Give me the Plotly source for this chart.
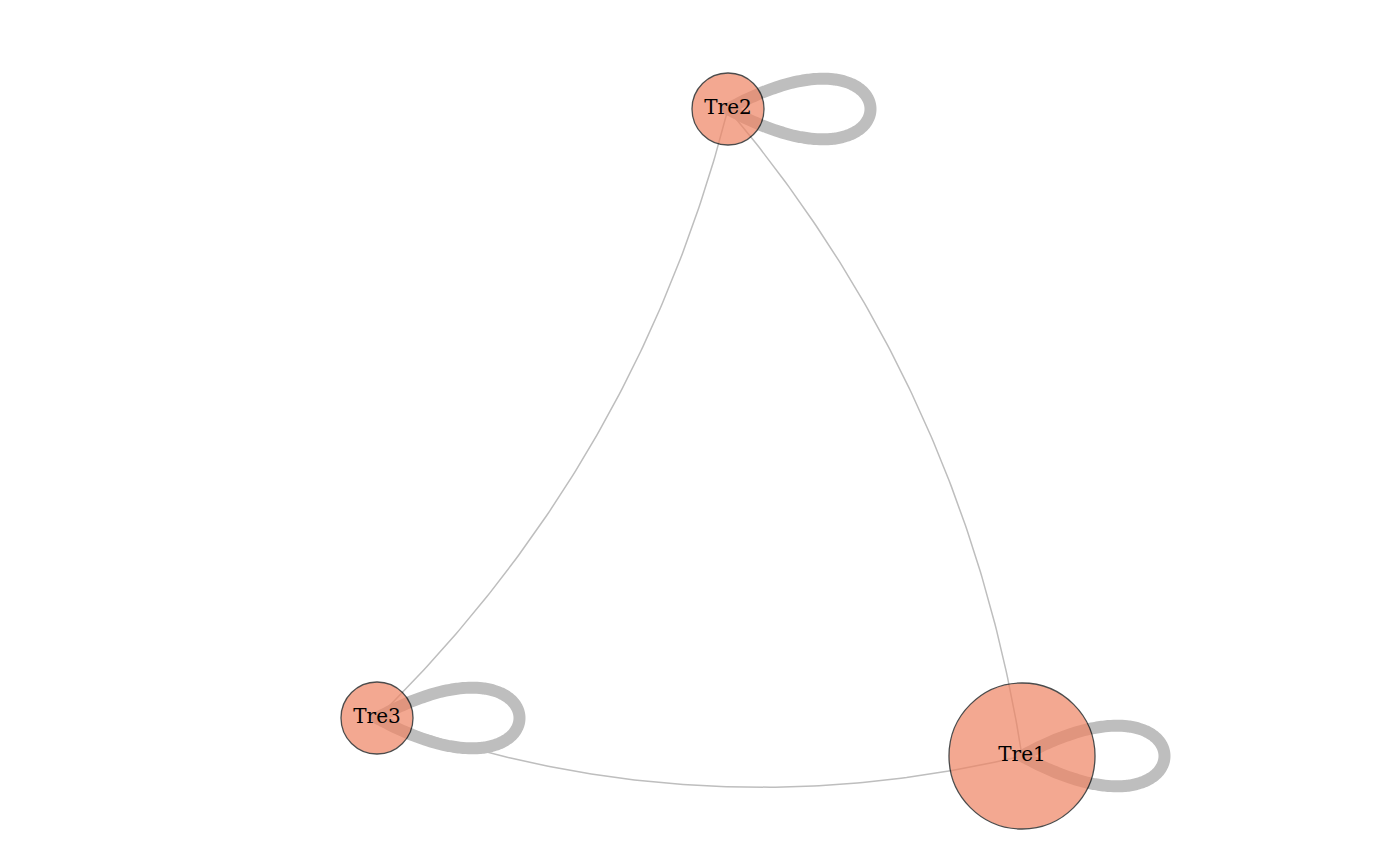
import numpy as np
import plotly.graph_objects as go

names = ["Tre1", "Tre2", "Tre3"]
node_x = [1022, 728, 377]
node_y = [756, 109, 718]
node_r = [73, 36, 36]
edges = [(1, 2), (1, 0), (2, 0)]
edge_bend = [-0.14, -0.14, 0.15]

fig = go.Figure()
t = np.linspace(0, 1, 120)
for (a, b), k in zip(edges, edge_bend):
    p0 = np.array([node_x[a], node_y[a]], float)
    p2 = np.array([node_x[b], node_y[b]], float)
    d = p2 - p0
    perp = np.array([-d[1], d[0]])
    c = (p0 + p2) / 2 + k * perp
    pts = np.outer((1 - t) ** 2, p0) + np.outer(2 * t * (1 - t), c) + np.outer(t ** 2, p2)
    fig.add_trace(go.Scatter(x=pts[:, 0], y=pts[:, 1], mode="lines",
                             line=dict(color="#BEBEBE", width=1.5), hoverinfo="skip"))

for i in range(3):
    p0 = np.array([node_x[i], node_y[i]], float)
    p1 = p0 + [190, -105]
    p2 = p0 + [190, 105]
    pts = (np.outer((1 - t) ** 3, p0) + np.outer(3 * t * (1 - t) ** 2, p1)
           + np.outer(3 * t ** 2 * (1 - t), p2) + np.outer(t ** 3, p0))
    fig.add_trace(go.Scatter(x=pts[:, 0], y=pts[:, 1], mode="lines",
                             line=dict(color="#BEBEBE", width=12, shape="spline"),
                             hoverinfo="skip"))

fig.add_trace(go.Scatter(
    x=node_x, y=node_y, mode="markers+text", text=names,
    marker=dict(size=[2 * r for r in node_r], color="#EF8463",
                line=dict(color="black", width=1.3)),
    textfont=dict(family="DejaVu Serif", size=20, color="black"),
    textposition="middle center"))

fig.update_layout(width=1400, height=866, margin=dict(l=0, r=0, t=0, b=0),
                  plot_bgcolor="white", paper_bgcolor="white", showlegend=False,
                  xaxis=dict(range=[8, 1408], visible=False),
                  yaxis=dict(range=[874, 8], visible=False))
fig.write_html("out.html")
